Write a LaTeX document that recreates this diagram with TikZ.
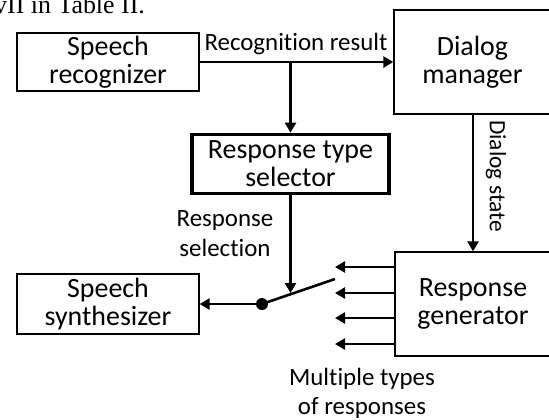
\documentclass[tikz,border=0pt]{standalone}
\usepackage{fontspec}
\setmainfont{Carlito}[Ligatures=NoCommon]
\newfontfamily\paperfont{Liberation Serif}
\usetikzlibrary{arrows.meta}

\begin{document}
\begin{tikzpicture}[x=1bp,y=-1bp,
  box/.style={draw,line width=1.3bp,align=center,inner sep=0pt,font=\fontsize{28}{28}\selectfont},
  lbl/.style={align=center,inner sep=0pt,font=\fontsize{25}{30}\selectfont},
  arr/.style={line width=2.6bp,-{Triangle[length=10bp,width=11bp]}}]
  \useasboundingbox (0,0) rectangle (549,419);
  \clip (0,0) rectangle (549,419);

  % riga del testo sopra
  \node[anchor=base west,inner sep=0pt,font=\paperfont\fontsize{26}{30}\selectfont] (page) at (-6,13) {vII in Table II.};

  % blocchi
  \node[box,minimum width=182bp,minimum height=58bp] (rec) at (108,62) {Speech\\recognizer};
  \node[box,minimum width=157bp,minimum height=104bp] (dm) at (472.5,62) {Dialog\\manager};
  \node[box,line width=3.8bp,minimum width=197bp,minimum height=59bp] (sel) at (290.5,164) {Response type\\selector};
  \node[box,minimum width=182bp,minimum height=60bp] (syn) at (108,304) {Speech\\synthesizer};
  \node[box,minimum width=156bp,minimum height=104bp] (gen) at (473,304) {Response\\generator};

  % risultato del riconoscimento
  \draw[arr] (rec.east) -- (rec.east -| dm.west);
  \node[lbl,anchor=base] (reclbl) at (296,50) {Recognition result};
  \draw[arr] (sel.north |- rec.east) -- (sel.north);

  % stato del dialogo
  \draw[arr] (dm.south -| gen.north) -- (gen.north);
  \node[lbl,font=\fontsize{23.5}{28}\selectfont,rotate=-90] (dslbl) at (496,176) {Dialog state};

  % interruttore
  \coordinate (pivot) at (262,304);
  \coordinate (blade) at (335,279);
  \coordinate (contact) at (290.5,293);
  \draw[arr] (sel.south) -- (contact);
  \node[lbl] (sellbl) at (225,234) {Response\\selection};
  \draw[line width=2.6bp] (pivot) -- (blade);
  \fill (pivot) circle (6bp);
  \draw[arr] (pivot) -- (pivot -| syn.east);

  % risposte multiple
  \foreach \y [count=\i] in {267,293,318,344} {
    \coordinate (out\i) at (335,\y);
    \draw[arr] (gen.west |- out\i) -- (out\i);
  }
  \node[lbl,font=\fontsize{25}{29}\selectfont] (multlbl) at (362,393) {Multiple types\\of responses};
\end{tikzpicture}
\end{document}
